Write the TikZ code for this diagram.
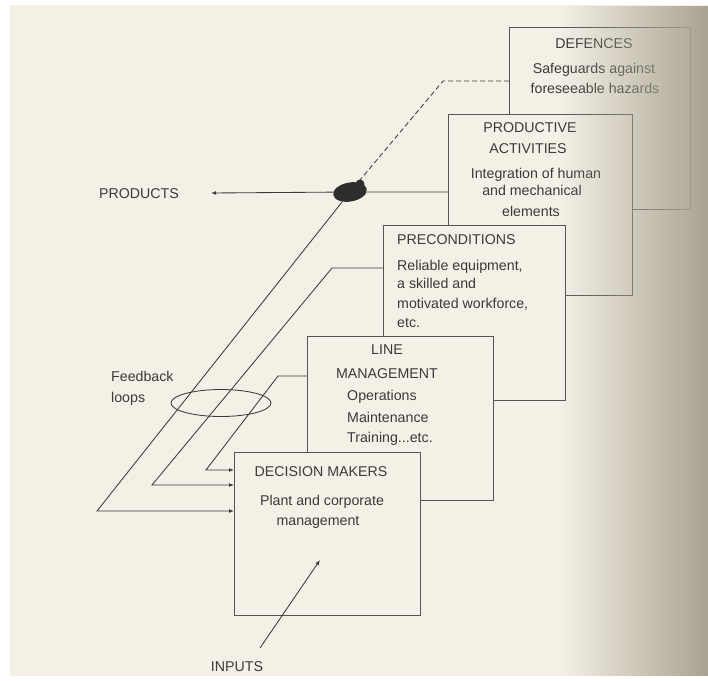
\documentclass[tikz,border=0pt]{standalone}
\usepackage{fontspec}
\setmainfont{Liberation Sans}
\usetikzlibrary{arrows.meta,shapes.geometric,fadings}
\definecolor{paper}{HTML}{F4F0E6}
\definecolor{ink}{HTML}{3A3A3A}
\definecolor{frame}{HTML}{555555}
\definecolor{gutter}{HTML}{A9A491}
% darkening towards the binding on the right
\tikzfading[name=gutterfade, left color=transparent!100, middle color=transparent!88, right color=transparent!0]
\begin{document}
\begin{tikzpicture}[x=1pt,y=-1pt,
  layer/.style={draw=frame, line width=0.95pt, fill=paper, inner sep=0pt, outer sep=0pt, anchor=north west},
  lbl/.style={text=ink, font=\fontsize{14.2}{16}\selectfont, inner sep=0pt, anchor=base},
  lblw/.style={lbl, anchor=base west},
  link/.style={draw=ink, line width=0.85pt},
  arr/.style={link, -{Latex[length=5pt,width=3.8pt]}},
]
\useasboundingbox (0,0) rectangle (708,680);
\fill[white] (0,0) rectangle (708,680);
\fill[paper] (10,5) rectangle (708,676);

% the five stacked layers, back to front
\node[layer, minimum width=181pt, minimum height=182pt] (def)  at (509,27)  {};
\node[layer, minimum width=184pt, minimum height=181pt] (prod) at (448,114) {};
\node[layer, minimum width=182pt, minimum height=175pt] (pre)  at (383,225) {};
\node[layer, minimum width=186pt, minimum height=164pt] (lm)   at (307,336) {};
\node[layer, minimum width=186pt, minimum height=163pt] (dm)   at (234,452) {};

% layer texts
\node[lbl] (defA) at (594,48) {DEFENCES};
\node[lbl] (defB) at (594,73) {Safeguards against};
\node[lbl] (defC) at (595,93) {foreseeable hazards};

\node[lbl] (prodA) at (530,132) {PRODUCTIVE};
\node[lbl] (prodB) at (528,153) {ACTIVITIES};
\node[lbl] (prodC) at (536,178) {Integration of human};
\node[lbl] (prodD) at (532,195) {and mechanical};
\node[lbl] (prodE) at (531,216) {elements};

\node[lblw] (preA) at (397,244) {PRECONDITIONS};
\node[lblw] (preB) at (397,270) {Reliable equipment,};
\node[lblw] (preC) at (397,288) {a skilled and};
\node[lblw] (preD) at (397,308) {motivated workforce,};
\node[lblw] (preE) at (397,327) {etc.};

\node[lbl]  (lmA) at (387,354) {LINE};
\node[lbl]  (lmB) at (387,378) {MANAGEMENT};
\node[lblw] (lmC) at (347,400) {Operations};
\node[lblw] (lmD) at (347,422) {Maintenance};
\node[lblw] (lmE) at (347,442) {Training...etc.};

\node[lbl] (dmA) at (321,476) {DECISION MAKERS};
\node[lbl] (dmB) at (322,505) {Plant and corporate};
\node[lbl] (dmC) at (318,525) {management};

% outer labels
\node[lbl]  (products) at (139,198) {PRODUCTS};
\node[lblw] (fbA) at (111,381) {Feedback};
\node[lblw] (fbB) at (111,402) {loops};
\node[lbl]  (inputs) at (237,671) {INPUTS};

% junction where the outputs meet, with its small bump at the top right
\node[ellipse, fill=ink!80!black, minimum width=34pt, minimum height=19pt, inner sep=0pt, rotate=10] (blob) at (350,192) {};
\fill[ink!80!black] (360,184) circle (4.5pt);

% bend points of the connectors
\coordinate (dk)  at (443,81);
\coordinate (pend) at (211,193);
\coordinate (k1)  at (97,511);
\coordinate (k2a) at (332,268);
\coordinate (k2b) at (152,485);
\coordinate (k3a) at (278,376);
\coordinate (k3b) at (206,470);
\coordinate (intail) at (260,648);
\coordinate (inhead) at (320,560);

% outputs
\draw[link, dash pattern=on 5pt off 3pt] (def.west |- dk) -- (dk) -- (blob);
\draw[link] (prod.west |- blob) -- (blob);
\draw[arr] (blob) -- (pend);

% feedback loops into the decision makers
\draw[arr] (blob) -- (k1) -- (dm.west |- k1);
\draw[arr] (pre.west |- k2a) -- (k2a) -- (k2b) -- (dm.west |- k2b);
\draw[arr] (lm.west |- k3a) -- (k3a) -- (k3b) -- (dm.west |- k3b);
\node[draw=ink, line width=0.85pt, ellipse, minimum width=100pt, minimum height=27pt, inner sep=0pt] (loop) at (221,403) {};

% inputs
\draw[arr] (intail) -- (inhead);

% shadow of the binding
\fill[gutter, path fading=gutterfade] (560,5) rectangle (708,676);
\end{tikzpicture}
\end{document}
